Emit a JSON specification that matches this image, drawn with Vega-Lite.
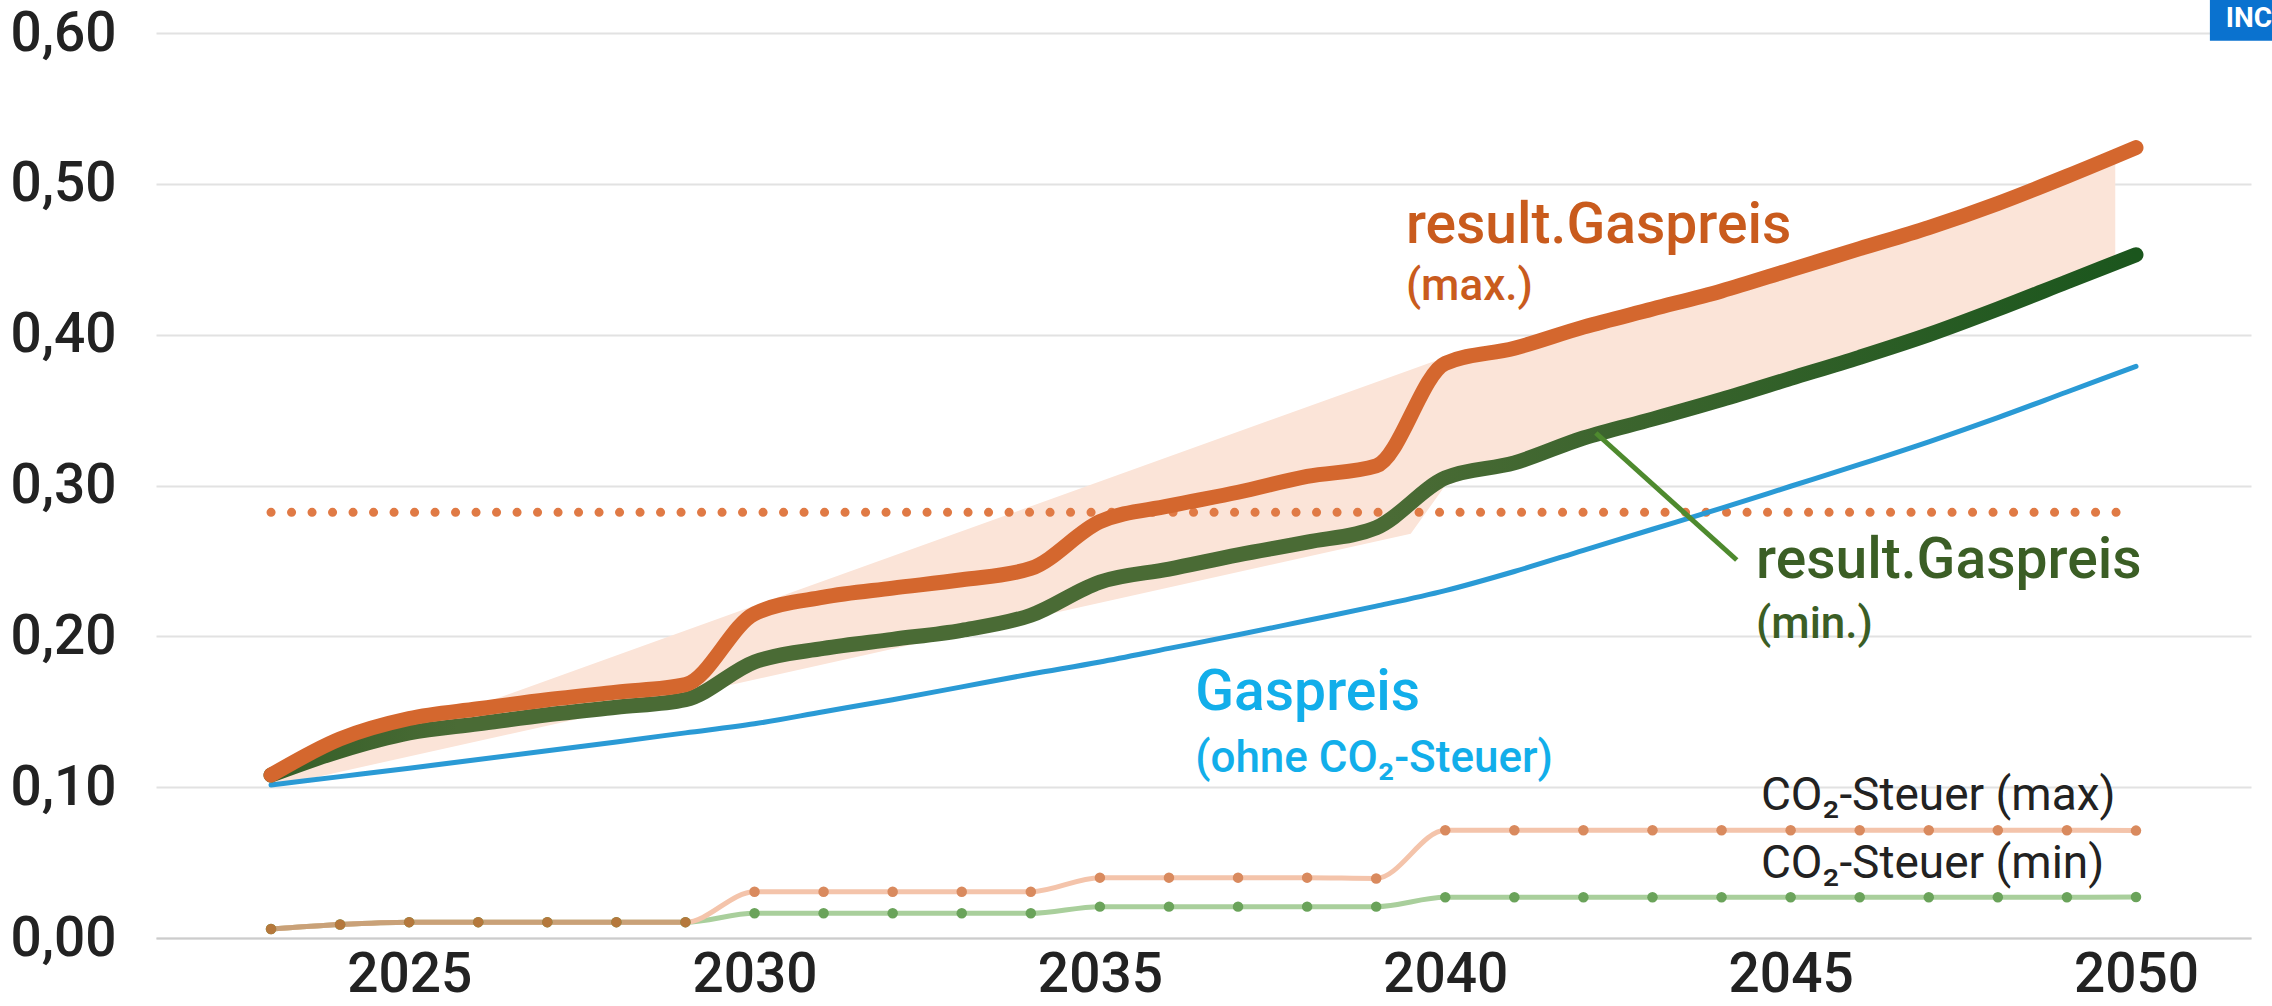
{
  "$schema": "https://vega.github.io/schema/vega-lite/v6.json",
  "width": 2095,
  "height": 905,
  "autosize": {"type": "none"},
  "padding": {"left": 156, "top": 33, "right": 21, "bottom": 68},
  "background": "white",
  "config": {"view": {"stroke": null}, "font": "Roboto, DejaVu Sans, sans-serif"},
  "datasets": {
    "prices": [
      {"year": 2023, "gas_max": 0.108, "gas_min": 0.108, "gas": 0.1014},
      {"year": 2024, "gas_max": 0.132, "gas_min": 0.124, "gas": 0.107},
      {"year": 2025, "gas_max": 0.1455, "gas_min": 0.136, "gas": 0.1126},
      {"year": 2026, "gas_max": 0.152, "gas_min": 0.142, "gas": 0.1183},
      {"year": 2027, "gas_max": 0.158, "gas_min": 0.148, "gas": 0.1241},
      {"year": 2028, "gas_max": 0.163, "gas_min": 0.153, "gas": 0.13},
      {"year": 2029, "gas_max": 0.168, "gas_min": 0.158, "gas": 0.136},
      {"year": 2030, "gas_max": 0.215, "gas_min": 0.183, "gas": 0.142},
      {"year": 2031, "gas_max": 0.226, "gas_min": 0.192, "gas": 0.15},
      {"year": 2032, "gas_max": 0.232, "gas_min": 0.198, "gas": 0.158},
      {"year": 2033, "gas_max": 0.2375, "gas_min": 0.204, "gas": 0.1665},
      {"year": 2034, "gas_max": 0.245, "gas_min": 0.214, "gas": 0.175},
      {"year": 2035, "gas_max": 0.276, "gas_min": 0.236, "gas": 0.183},
      {"year": 2036, "gas_max": 0.2865, "gas_min": 0.2446, "gas": 0.192},
      {"year": 2037, "gas_max": 0.2955, "gas_min": 0.254, "gas": 0.201},
      {"year": 2038, "gas_max": 0.306, "gas_min": 0.2625, "gas": 0.2105},
      {"year": 2039, "gas_max": 0.313, "gas_min": 0.272, "gas": 0.22},
      {"year": 2040, "gas_max": 0.381, "gas_min": 0.305, "gas": 0.2303},
      {"year": 2041, "gas_max": 0.391, "gas_min": 0.315, "gas": 0.243},
      {"year": 2042, "gas_max": 0.405, "gas_min": 0.3315, "gas": 0.257},
      {"year": 2043, "gas_max": 0.417, "gas_min": 0.344, "gas": 0.271},
      {"year": 2044, "gas_max": 0.429, "gas_min": 0.357, "gas": 0.285},
      {"year": 2045, "gas_max": 0.443, "gas_min": 0.371, "gas": 0.2995},
      {"year": 2046, "gas_max": 0.457, "gas_min": 0.385, "gas": 0.314},
      {"year": 2047, "gas_max": 0.471, "gas_min": 0.4, "gas": 0.329},
      {"year": 2048, "gas_max": 0.487, "gas_min": 0.417, "gas": 0.345},
      {"year": 2049, "gas_max": 0.505, "gas_min": 0.435, "gas": 0.362},
      {"year": 2050, "gas_max": 0.524, "gas_min": 0.453, "gas": 0.379}
    ],
    "co2": [
      {"year": 2023, "co2_max": 0.006, "co2_min": 0.006},
      {"year": 2024, "co2_max": 0.009, "co2_min": 0.009},
      {"year": 2025, "co2_max": 0.0105, "co2_min": 0.0105},
      {"year": 2026, "co2_max": 0.0105, "co2_min": 0.0105},
      {"year": 2027, "co2_max": 0.0105, "co2_min": 0.0105},
      {"year": 2028, "co2_max": 0.0105, "co2_min": 0.0105},
      {"year": 2029, "co2_max": 0.0105, "co2_min": 0.0105},
      {"year": 2030, "co2_max": 0.0307, "co2_min": 0.0164},
      {"year": 2031, "co2_max": 0.0307, "co2_min": 0.0164},
      {"year": 2032, "co2_max": 0.0307, "co2_min": 0.0164},
      {"year": 2033, "co2_max": 0.0307, "co2_min": 0.0164},
      {"year": 2034, "co2_max": 0.0307, "co2_min": 0.0164},
      {"year": 2035, "co2_max": 0.04, "co2_min": 0.0208},
      {"year": 2036, "co2_max": 0.04, "co2_min": 0.0208},
      {"year": 2037, "co2_max": 0.04, "co2_min": 0.0208},
      {"year": 2038, "co2_max": 0.04, "co2_min": 0.0208},
      {"year": 2039, "co2_max": 0.0395, "co2_min": 0.0208},
      {"year": 2040, "co2_max": 0.0714, "co2_min": 0.027},
      {"year": 2041, "co2_max": 0.0714, "co2_min": 0.027},
      {"year": 2042, "co2_max": 0.0714, "co2_min": 0.027},
      {"year": 2043, "co2_max": 0.0714, "co2_min": 0.027},
      {"year": 2044, "co2_max": 0.0714, "co2_min": 0.027},
      {"year": 2045, "co2_max": 0.0714, "co2_min": 0.027},
      {"year": 2046, "co2_max": 0.0714, "co2_min": 0.027},
      {"year": 2047, "co2_max": 0.0714, "co2_min": 0.027},
      {"year": 2048, "co2_max": 0.0714, "co2_min": 0.027},
      {"year": 2049, "co2_max": 0.0714, "co2_min": 0.027},
      {"year": 2050, "co2_max": 0.0712, "co2_min": 0.0272}
    ],
    "band": [
      {"year": 2023, "upper": 0.105, "lower": 0.1},
      {"year": 2039.5, "upper": 0.3768, "lower": 0.268},
      {"year": 2040, "upper": 0.385, "lower": 0.3},
      {"year": 2041, "upper": 0.391, "lower": 0.315},
      {"year": 2042, "upper": 0.405, "lower": 0.3315},
      {"year": 2043, "upper": 0.417, "lower": 0.344},
      {"year": 2044, "upper": 0.429, "lower": 0.357},
      {"year": 2045, "upper": 0.443, "lower": 0.371},
      {"year": 2046, "upper": 0.457, "lower": 0.385},
      {"year": 2047, "upper": 0.471, "lower": 0.4},
      {"year": 2048, "upper": 0.487, "lower": 0.417},
      {"year": 2049, "upper": 0.505, "lower": 0.435},
      {"year": 2049.7, "upper": 0.518, "lower": 0.448}
    ]
  },
  "layer": [
    {
      "data": {"name": "band"},
      "mark": {"type": "area", "color": "#fbe4d8", "opacity": 1},
      "encoding": {
        "x": {"field": "year", "type": "quantitative", "title": null,
          "scale": {"domain": [2021.335, 2051.665], "nice": false, "zero": false},
          "axis": {"title": null, "values": [2025, 2030, 2035, 2040, 2045, 2050], "format": "d", "grid": false, "ticks": false,
            "domainColor": "#cccccc", "domainWidth": 2, "labelPadding": 10, "labelFontSize": 55, "labelFontWeight": 500,
            "labelColor": "#222222", "labelFont": "Roboto, DejaVu Sans, sans-serif", "labelBaseline": "top"}},
        "y": {"field": "upper", "type": "quantitative", "title": null,
          "scale": {"domain": [0, 0.6], "nice": false, "zero": true},
          "axis": {"title": null, "values": [0, 0.1, 0.2, 0.3, 0.4, 0.5, 0.6],
            "labelExpr": "replace(format(datum.value, '.2f'), '.', ',')",
            "domain": false, "ticks": false, "labelPadding": 40, "labelFontSize": 55, "labelFontWeight": 500,
            "labelColor": "#222222", "labelFont": "Roboto, DejaVu Sans, sans-serif",
            "gridColor": "#e2e2e2", "gridWidth": 2}},
        "y2": {"field": "lower"}
      }
    },
    {
      "data": {"values": [{}]},
      "mark": {"type": "rule", "color": "#e07a45", "strokeWidth": 9, "strokeCap": "round", "strokeDash": [0.1, 20.4]},
      "encoding": {
        "x": {"datum": 2023, "type": "quantitative", "title": null},
        "x2": {"datum": 2050},
        "y": {"datum": 0.2822, "type": "quantitative", "title": null}
      }
    },
    {
      "data": {"name": "prices"},
      "mark": {"type": "line", "color": "#2a9ad5", "strokeWidth": 5, "interpolate": "monotone", "strokeCap": "round"},
      "encoding": {
        "x": {"field": "year", "type": "quantitative", "title": null},
        "y": {"field": "gas", "type": "quantitative", "title": null}
      }
    },
    {
      "data": {"name": "prices"},
      "mark": {"type": "line", "strokeWidth": 15, "interpolate": "monotone", "strokeCap": "round",
        "color": {"gradient": "linear", "x1": 0, "x2": 1, "y1": 0, "y2": 0,
          "stops": [{"offset": 0, "color": "#345f28"}, {"offset": 0.1, "color": "#4a6b35"}, {"offset": 0.6, "color": "#4a6b35"}, {"offset": 1, "color": "#1b561d"}]}},
      "encoding": {
        "x": {"field": "year", "type": "quantitative", "title": null},
        "y": {"field": "gas_min", "type": "quantitative", "title": null}
      }
    },
    {
      "data": {"name": "prices"},
      "mark": {"type": "line", "color": "#d4672e", "strokeWidth": 15, "interpolate": "monotone", "strokeCap": "round"},
      "encoding": {
        "x": {"field": "year", "type": "quantitative", "title": null},
        "y": {"field": "gas_max", "type": "quantitative", "title": null}
      }
    },
    {
      "data": {"name": "co2"},
      "mark": {"type": "line", "color": "#a9cf9c", "strokeWidth": 5, "interpolate": "monotone"},
      "encoding": {
        "x": {"field": "year", "type": "quantitative", "title": null},
        "y": {"field": "co2_min", "type": "quantitative", "title": null}
      }
    },
    {
      "data": {"name": "co2"},
      "mark": {"type": "line", "color": "#f4c4ab", "strokeWidth": 5, "interpolate": "monotone"},
      "encoding": {
        "x": {"field": "year", "type": "quantitative", "title": null},
        "y": {"field": "co2_max", "type": "quantitative", "title": null}
      }
    },
    {
      "data": {"name": "co2"},
      "transform": [{"filter": "datum.year <= 2029"}],
      "mark": {"type": "line", "color": "#c9a178", "strokeWidth": 5, "interpolate": "monotone"},
      "encoding": {
        "x": {"field": "year", "type": "quantitative", "title": null},
        "y": {"field": "co2_max", "type": "quantitative", "title": null}
      }
    },
    {
      "data": {"name": "co2"},
      "mark": {"type": "point", "filled": true, "size": 110, "opacity": 1, "color": "#6aa35a"},
      "encoding": {
        "x": {"field": "year", "type": "quantitative", "title": null},
        "y": {"field": "co2_min", "type": "quantitative", "title": null}
      }
    },
    {
      "data": {"name": "co2"},
      "mark": {"type": "point", "filled": true, "size": 110, "opacity": 1},
      "encoding": {
        "x": {"field": "year", "type": "quantitative", "title": null},
        "y": {"field": "co2_max", "type": "quantitative", "title": null},
        "color": {"condition": {"test": "datum.year <= 2029", "value": "#b5783c"}, "value": "#d98a5e"}
      }
    },
    {
      "data": {"values": [{}]},
      "mark": {"type": "rule", "color": "#4e8a2e", "strokeWidth": 5},
      "encoding": {
        "x": {"datum": 2042.18, "type": "quantitative", "title": null},
        "y": {"datum": 0.3348, "type": "quantitative", "title": null},
        "x2": {"datum": 2044.22},
        "y2": {"datum": 0.2506}
      }
    },
    {
      "data": {"values": [{}]},
      "mark": {"type": "rect", "color": "#0a72cf"},
      "encoding": {
        "x": {"datum": 2051.07, "type": "quantitative", "title": null},
        "x2": {"datum": 2052.0},
        "y": {"datum": 0.5949, "type": "quantitative", "title": null},
        "y2": {"datum": 0.6219}
      }
    },
    {
      "data": {"values": [{}]},
      "mark": {"type": "text", "text": "INC", "align": "left", "baseline": "alphabetic", "fontSize": 28, "fontWeight": "bold", "color": "#ffffff"},
      "encoding": {"x": {"datum": 2051.3, "type": "quantitative", "title": null}, "y": {"datum": 0.604, "type": "quantitative", "title": null}}
    },
    {
      "data": {"values": [{}]},
      "mark": {"type": "text", "text": "result.Gaspreis", "align": "left", "baseline": "alphabetic", "fontSize": 57, "fontWeight": 500, "color": "#c95b1d"},
      "encoding": {"x": {"datum": 2039.43, "type": "quantitative", "title": null}, "y": {"datum": 0.4608, "type": "quantitative", "title": null}}
    },
    {
      "data": {"values": [{}]},
      "mark": {"type": "text", "text": "(max.)", "align": "left", "baseline": "alphabetic", "fontSize": 44, "fontWeight": 500, "color": "#c95b1d"},
      "encoding": {"x": {"datum": 2039.43, "type": "quantitative", "title": null}, "y": {"datum": 0.423, "type": "quantitative", "title": null}}
    },
    {
      "data": {"values": [{}]},
      "mark": {"type": "text", "text": "result.Gaspreis", "align": "left", "baseline": "alphabetic", "fontSize": 57, "fontWeight": 500, "color": "#3b5e25"},
      "encoding": {"x": {"datum": 2044.5, "type": "quantitative", "title": null}, "y": {"datum": 0.2387, "type": "quantitative", "title": null}}
    },
    {
      "data": {"values": [{}]},
      "mark": {"type": "text", "text": "(min.)", "align": "left", "baseline": "alphabetic", "fontSize": 44, "fontWeight": 500, "color": "#3b5e25"},
      "encoding": {"x": {"datum": 2044.5, "type": "quantitative", "title": null}, "y": {"datum": 0.1989, "type": "quantitative", "title": null}}
    },
    {
      "data": {"values": [{}]},
      "mark": {"type": "text", "text": "Gaspreis", "align": "left", "baseline": "alphabetic", "fontSize": 57, "fontWeight": 500, "color": "#12aeea"},
      "encoding": {"x": {"datum": 2036.38, "type": "quantitative", "title": null}, "y": {"datum": 0.1512, "type": "quantitative", "title": null}}
    },
    {
      "data": {"values": [{}]},
      "mark": {"type": "text", "text": "(ohne CO₂-Steuer)", "align": "left", "baseline": "alphabetic", "fontSize": 44, "fontWeight": 500, "color": "#12aeea"},
      "encoding": {"x": {"datum": 2036.38, "type": "quantitative", "title": null}, "y": {"datum": 0.11, "type": "quantitative", "title": null}}
    },
    {
      "data": {"values": [{}]},
      "mark": {"type": "text", "text": "CO₂-Steuer (max)", "align": "left", "baseline": "alphabetic", "fontSize": 46, "fontWeight": 400, "color": "#222222"},
      "encoding": {"x": {"datum": 2044.57, "type": "quantitative", "title": null}, "y": {"datum": 0.0849, "type": "quantitative", "title": null}}
    },
    {
      "data": {"values": [{}]},
      "mark": {"type": "text", "text": "CO₂-Steuer (min)", "align": "left", "baseline": "alphabetic", "fontSize": 46, "fontWeight": 400, "color": "#222222"},
      "encoding": {"x": {"datum": 2044.57, "type": "quantitative", "title": null}, "y": {"datum": 0.0398, "type": "quantitative", "title": null}}
    }
  ]
}
